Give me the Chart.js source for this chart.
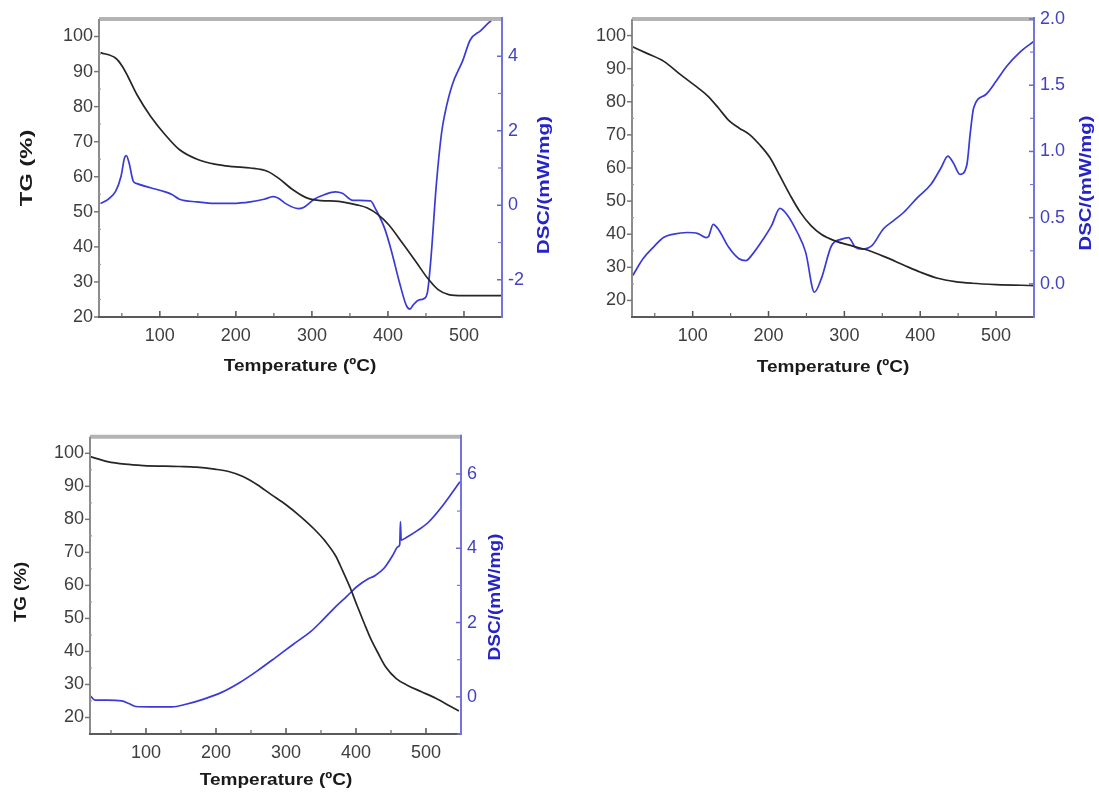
<!DOCTYPE html>
<html>
<head>
<meta charset="utf-8">
<script src="https://cdn.jsdelivr.net/npm/chart.js@4.4.1/dist/chart.umd.min.js"></script>
<style>
  body { margin: 0; background: #fff; width: 1099px; height: 796px; position: relative; overflow: hidden; }
  canvas { position: absolute; }
</style>
</head>
<body>
<canvas id="panel1" width="560" height="400" style="left:0;top:0"></canvas>
<canvas id="panel2" width="539" height="400" style="left:560px;top:0"></canvas>
<canvas id="panel3" width="560" height="376" style="left:0;top:420px"></canvas>
<script>
// ---- data ----
const tempTicks = [100, 200, 300, 400, 500];
const tempMinor = [50, 150, 250, 350, 450];

// panel 1 (top left)
const p1TgTemp = [22, 42, 51, 58, 70, 88, 107, 126, 149, 172, 196, 219, 242, 256, 275, 294, 312, 335, 359, 373, 387, 401, 419, 438, 452, 466, 480, 499, 550];
const p1TgVal  = [95.4, 93.8, 91.4, 88.6, 83.4, 77.2, 72, 67.7, 65, 63.6, 62.9, 62.5, 61.5, 59.6, 56.3, 53.9, 53.2, 53, 52, 51.1, 49.2, 46.3, 41.1, 35.4, 31.1, 27.8, 26.4, 26.1, 26.1];
const p1DscTemp = [22, 32, 42, 49, 53.5, 56, 59.5, 65, 70, 88, 107, 116, 126, 149, 172, 196, 219, 237, 249, 256, 265, 282, 289, 303, 317, 331, 340, 354, 363, 377, 384, 396, 405, 415, 424, 429, 433, 440, 447, 452, 456.5, 463.5, 470.5, 475, 484.5, 498.5, 508, 522, 536, 545];
const p1DscVal  = [0.05, 0.16, 0.38, 0.78, 1.27, 1.33, 1.14, 0.65, 0.58, 0.47, 0.36, 0.29, 0.16, 0.09, 0.05, 0.05, 0.09, 0.16, 0.23, 0.19, 0.05, -0.09, -0.06, 0.16, 0.29, 0.36, 0.32, 0.13, 0.13, 0.12, -0.11, -0.64, -1.26, -2.06, -2.68, -2.79, -2.68, -2.55, -2.51, -2.33, -1.44, 0.52, 1.94, 2.47, 3.23, 3.89, 4.43, 4.69, 4.96, 5.05];
const p1TgTicks = [20, 30, 40, 50, 60, 70, 80, 90, 100];
const p1TgMinor = [25, 35, 45, 55, 65, 75, 85, 95];
const p1DscTicks = [-2, 0, 2, 4];
const p1DscMinor = [-1, 1, 3];

// panel 2 (top right)
const p2TgTemp = [20, 39, 62, 84, 107, 120, 134, 147.5, 161, 175, 188, 202, 215, 229, 242, 256, 269.5, 287.5, 310, 333, 355, 378, 400.5, 423, 446, 468, 500, 550];
const p2TgVal  = [96.7, 94.7, 92.2, 88.2, 84.2, 81.7, 78.1, 74.4, 72.1, 70.1, 67.1, 63.1, 57.6, 51.6, 46.6, 42.6, 40, 38, 36.5, 35, 33, 30.7, 28.5, 26.7, 25.7, 25.2, 24.8, 24.5];
const p2DscTemp = [21, 34.5, 48, 61.5, 75, 93, 107, 118, 121, 127, 134, 147.5, 161, 170, 179, 193, 204, 215, 224, 238, 249, 260.5, 269.5, 283, 296.5, 305.5, 314.5, 323.5, 337, 351, 364.5, 378, 396, 414, 427.5, 436.5, 443.5, 452.5, 461.5, 466, 470.5, 486.5, 500, 513.5, 531.5, 549.5];
const p2DscVal  = [0.063, 0.19, 0.276, 0.35, 0.376, 0.388, 0.38, 0.35, 0.358, 0.45, 0.41, 0.276, 0.19, 0.175, 0.225, 0.338, 0.44, 0.57, 0.526, 0.388, 0.238, -0.063, 0.038, 0.288, 0.338, 0.35, 0.276, 0.263, 0.293, 0.413, 0.476, 0.539, 0.65, 0.75, 0.877, 0.965, 0.915, 0.827, 0.9, 1.14, 1.33, 1.43, 1.53, 1.64, 1.75, 1.83];
const p2TgTicks = [20, 30, 40, 50, 60, 70, 80, 90, 100];
const p2TgMinor = [25, 35, 45, 55, 65, 75, 85, 95];
const p2DscTicks = [0.0, 0.5, 1.0, 1.5, 2.0];
const p2DscMinor = [0.25, 0.75, 1.25, 1.75];

// panel 3 (bottom left)
const p3TgTemp = [20.5, 45, 70, 96, 147, 172, 198, 218, 238.5, 259, 279, 299.5, 320, 340.5, 356, 371, 381, 391.5, 401.5, 412, 422, 432, 442.5, 457.5, 473, 493.5, 514, 534, 547];
const p3TgVal  = [99, 97.5, 96.7, 96.3, 96, 95.8, 95.2, 94.5, 93, 90.5, 87.5, 84.5, 81, 77, 73.4, 68.9, 64.4, 59.4, 53.9, 48.4, 43.4, 39.3, 35.3, 31.8, 29.8, 27.8, 25.8, 23.5, 22];
const p3DscTemp = [20.5, 27, 45, 65, 75.5, 85.5, 106, 137, 157, 182.5, 208, 233.5, 259, 284.5, 310, 335.5, 350.5, 371, 386.5, 401.5, 417, 427, 440, 452.5, 460, 462.5, 463.5, 464.5, 473, 488, 503.5, 524, 548.5];
const p3DscVal  = [0.03, -0.09, -0.09, -0.11, -0.18, -0.26, -0.27, -0.27, -0.2, -0.06, 0.12, 0.38, 0.7, 1.05, 1.41, 1.76, 2.03, 2.43, 2.7, 2.97, 3.17, 3.26, 3.46, 3.81, 4.04, 4.1, 4.72, 4.22, 4.3, 4.48, 4.7, 5.15, 5.79];
const p3TgTicks = [20, 30, 40, 50, 60, 70, 80, 90, 100];
const p3TgMinor = [25, 35, 45, 55, 65, 75, 85, 95];
const p3DscTicks = [0, 2, 4, 6];
const p3DscMinor = [-1, 1, 3, 5];

// ---- drawing ----
const BLACK = '#262626';
const BLUE = '#3a3ad6';
const FONT = '"Liberation Sans", Arial, sans-serif';

function pts(xs, ys) {
  return xs.map((x, i) => ({ x: x, y: ys[i] }));
}

// axis frame, ticks and rotated/stretched titles
const framePlugin = {
  id: 'frame',
  afterDraw(chart, args, o) {
    const { ctx, chartArea: a, scales } = chart;
    const x = scales.x, yl = scales.yTG, yr = scales.yDSC;
    ctx.save();
    ctx.lineCap = 'butt';
    function seg(x1, y1, x2, y2, col, w) {
      ctx.strokeStyle = col; ctx.lineWidth = w;
      ctx.beginPath(); ctx.moveTo(x1, y1); ctx.lineTo(x2, y2); ctx.stroke();
    }
    // top border
    seg(a.left, a.top, a.right + 1, a.top, '#b4b4b4', 4);
    // left
    seg(a.left, a.top, a.left, a.bottom + 1, '#8c8c8c', 2);
    o.tgTicks.forEach(v => { const p = yl.getPixelForValue(v); seg(a.left - 5, p, a.left, p, '#777', 1.5); });
    o.tgMinor.forEach(v => { const p = yl.getPixelForValue(v); seg(a.left - 1, p, a.left + 2, p, '#999', 1.2); });
    // bottom
    seg(a.left - 1, a.bottom, a.right + 1, a.bottom, '#5a5a5a', 2);
    tempTicks.forEach(v => { const p = x.getPixelForValue(v); seg(p, a.bottom, p, a.bottom - 6, '#555', 1.5); });
    tempMinor.forEach(v => { const p = x.getPixelForValue(v); seg(p, a.bottom, p, a.bottom - 4, '#666', 1.2); });
    // right
    seg(a.right, a.top - 2, a.right, a.bottom + 1, '#7474dc', 2);
    o.dscTicks.forEach(v => { const p = yr.getPixelForValue(v); seg(a.right - 5, p, a.right, p, '#6a6ad6', 1.5); });
    o.dscMinor.forEach(v => { const p = yr.getPixelForValue(v); seg(a.right - 4, p, a.right, p, '#7a7ad8', 1.2); });

    // titles
    o.titles.forEach(t => {
      ctx.save();
      ctx.translate(t.x, t.y);
      if (t.rot) ctx.rotate(-Math.PI / 2);
      ctx.scale(t.sx, 1);
      ctx.font = 'bold 17px ' + FONT;
      ctx.fillStyle = t.color;
      ctx.textAlign = 'center';
      ctx.textBaseline = 'middle';
      ctx.fillText(t.text, 0, 0);
      ctx.restore();
    });
    ctx.restore();
  }
};

function makePanel(id, cfg) {
  const tickFont = { family: FONT, size: 18 };
  new Chart(document.getElementById(id), {
    type: 'line',
    data: {
      datasets: [
        { label: 'TG', data: pts(cfg.tgTemp, cfg.tgVal), yAxisID: 'yTG', borderColor: BLACK, borderWidth: 1.7 },
        { label: 'DSC', data: pts(cfg.dscTemp, cfg.dscVal), yAxisID: 'yDSC', borderColor: BLUE, borderWidth: 1.7 }
      ]
    },
    options: {
      responsive: false,
      animation: false,
      devicePixelRatio: 1,
      parsing: false,
      layout: { padding: { top: cfg.padTop, left: 0, right: 0, bottom: 0 } },
      elements: {
        point: { radius: 0 },
        line: { cubicInterpolationMode: 'monotone', fill: false }
      },
      plugins: {
        legend: { display: false },
        tooltip: { enabled: false },
        frame: { tgTicks: cfg.tgTicks, tgMinor: cfg.tgMinor, dscTicks: cfg.dscTicks, dscMinor: cfg.dscMinor, titles: cfg.titles }
      },
      scales: {
        x: {
          type: 'linear', min: 20, max: 550,
          grid: { display: false, drawTicks: false }, border: { display: false },
          afterBuildTicks: s => { s.ticks = tempTicks.map(v => ({ value: v })); },
          afterFit: s => { s.height = cfg.xHeight; },
          ticks: { font: tickFont, color: '#3e3e3e', padding: 8, maxRotation: 0 }
        },
        yTG: {
          type: 'linear', position: 'left', min: cfg.tgMin, max: 105,
          grid: { display: false, drawTicks: false }, border: { display: false },
          afterBuildTicks: s => { s.ticks = cfg.tgTicks.map(v => ({ value: v })); },
          afterFit: s => { s.width = cfg.leftWidth; },
          ticks: { font: tickFont, color: '#3e3e3e', padding: 6 }
        },
        yDSC: {
          type: 'linear', position: 'right', min: cfg.dscMin, max: cfg.dscMax,
          grid: { display: false, drawTicks: false }, border: { display: false },
          afterBuildTicks: s => { s.ticks = cfg.dscTicks.map(v => ({ value: v })); },
          afterFit: s => { s.width = cfg.rightWidth; },
          ticks: { font: tickFont, color: '#4242c2', padding: 6, callback: cfg.dscFmt || (v => String(v)) }
        }
      }
    },
    plugins: [framePlugin]
  });
}

makePanel('panel1', {
  tgTemp: p1TgTemp, tgVal: p1TgVal, dscTemp: p1DscTemp, dscVal: p1DscVal,
  tgTicks: p1TgTicks, tgMinor: p1TgMinor, dscTicks: p1DscTicks, dscMinor: p1DscMinor,
  tgMin: 20, dscMin: -3, dscMax: 5,
  padTop: 19, xHeight: 83, leftWidth: 99, rightWidth: 58,
  titles: [
    { text: 'TG (%)', x: 27, y: 168, rot: true, sx: 1.4, color: '#1a1a1a' },
    { text: 'DSC/(mW/mg)', x: 544, y: 185, rot: true, sx: 1.22, color: '#2424c8' },
    { text: 'Temperature (ºC)', x: 300, y: 366, rot: false, sx: 1.12, color: '#1a1a1a' }
  ]
});

makePanel('panel2', {
  tgTemp: p2TgTemp, tgVal: p2TgVal, dscTemp: p2DscTemp, dscVal: p2DscVal,
  tgTicks: p2TgTicks, tgMinor: p2TgMinor, dscTicks: p2DscTicks, dscMinor: p2DscMinor,
  tgMin: 15, dscMin: -0.25, dscMax: 2.0,
  padTop: 19, xHeight: 83, leftWidth: 72, rightWidth: 65,
  dscFmt: v => v.toFixed(1),
  titles: [
    { text: 'DSC/(mW/mg)', x: 526, y: 183, rot: true, sx: 1.19, color: '#2424c8' },
    { text: 'Temperature (ºC)', x: 273, y: 367, rot: false, sx: 1.12, color: '#1a1a1a' }
  ]
});

makePanel('panel3', {
  tgTemp: p3TgTemp, tgVal: p3TgVal, dscTemp: p3DscTemp, dscVal: p3DscVal,
  tgTicks: p3TgTicks, tgMinor: p3TgMinor, dscTicks: p3DscTicks, dscMinor: p3DscMinor,
  tgMin: 15, dscMin: -1, dscMax: 7,
  padTop: 15, xHeight: 62, leftWidth: 90, rightWidth: 99,
  titles: [
    { text: 'TG (%)', x: 21, y: 172, rot: true, sx: 1.1, color: '#1a1a1a' },
    { text: 'DSC/(mW/mg)', x: 495, y: 177, rot: true, sx: 1.12, color: '#2424c8' },
    { text: 'Temperature (ºC)', x: 276, y: 360, rot: false, sx: 1.12, color: '#1a1a1a' }
  ]
});
</script>
</body>
</html>
